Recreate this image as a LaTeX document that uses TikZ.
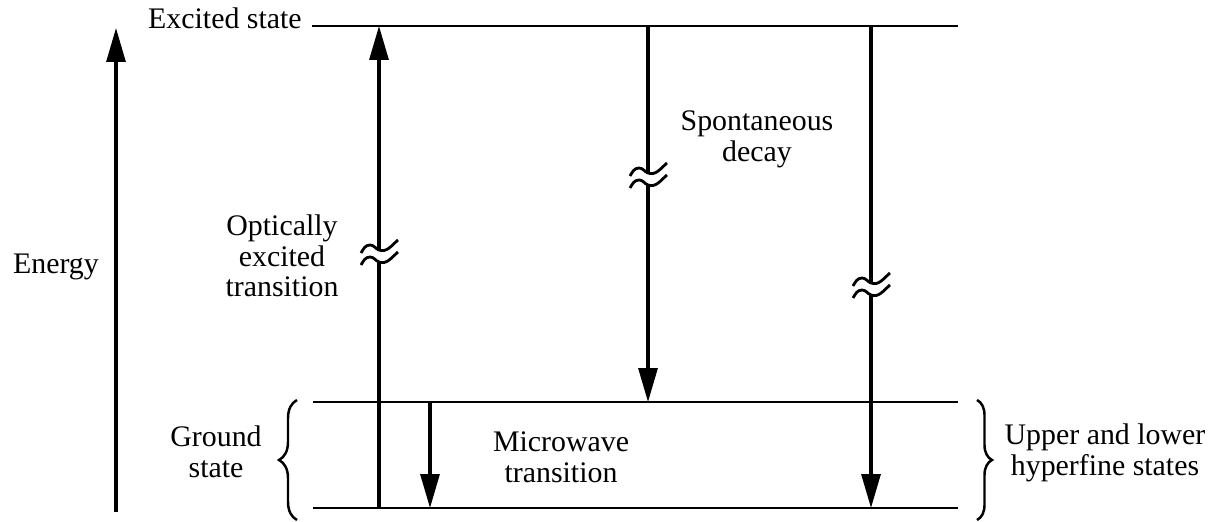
\documentclass[tikz,border=0pt]{standalone}
\usepackage{fontspec}
\setmainfont{Liberation Serif}
\usetikzlibrary{arrows.meta,decorations.pathreplacing}

\begin{document}
\begin{tikzpicture}[x=0.02cm,y=0.02cm,
    level/.style={line width=1.3pt},
    trans/.style={line width=1.8pt,-{Triangle[length=0.68cm,width=0.38cm]}},
    lbl/.style={font=\fontsize{17}{17.5}\selectfont,align=center,inner sep=0pt},
    brc/.style={decorate,decoration={brace,amplitude=#1},line width=1.4pt},
    breakmark/.pic={
      \fill[white] (-3,-6) rectangle (3,4);
      \draw[line width=1.6pt] (-18,2) to[out=60,in=180] (-9,10) to[out=0,in=160] (0,5) to[out=-20,in=220] (19,15);
      \draw[line width=1.6pt] (-18,-10) to[out=60,in=180] (-9,-2) to[out=0,in=160] (0,-7) to[out=-20,in=220] (19,3);
    }]
  \useasboundingbox (0,0) rectangle (1212,521);

  % energy levels
  \draw[level] (312,495) coordinate (exc-l) -- (958,495) coordinate (exc-r);
  \draw[level] (313,119) coordinate (gup-l) -- (958,119) coordinate (gup-r);
  \draw[level] (313,13) coordinate (glo-l) -- (958,13) coordinate (glo-r);

  % arrow end points
  \coordinate (en-lo) at (116,9);
  \coordinate (en-hi) at (116,493);
  \coordinate (opt-lo) at (379,13);
  \coordinate (opt-hi) at (379,495);
  \coordinate (sp1-hi) at (648,495);
  \coordinate (sp1-lo) at (648,119);
  \coordinate (sp2-hi) at (871,495);
  \coordinate (sp2-lo) at (871,13);
  \coordinate (mw-hi) at (430,119);
  \coordinate (mw-lo) at (430,13);

  \draw[trans] (en-lo) -- (en-hi);
  \draw[trans] (opt-lo) -- (opt-hi);
  \draw[trans] (sp1-hi) -- (sp1-lo);
  \draw[trans] (sp2-hi) -- (sp2-lo);
  \draw[trans] (mw-hi) -- (mw-lo);

  % breaks in the long arrows
  \path (379,266) pic {breakmark};
  \path (648,343) pic {breakmark};
  \path (871,233) pic {breakmark};

  % braces
  \draw[brc=0.36cm] (297,1) -- (297,121);
  \draw[brc=0.3cm] (977,121) -- (977,1);

  % labels
  \node[lbl,anchor=east] (excited) at (302,503) {Excited state};
  \node[lbl] (energy) at (56,254) {Energy};
  \node[lbl] (optical) at (282,265) {Optically\\excited\\transition};
  \node[lbl] (spont) at (757,382) {Spontaneous\\decay};
  \node[lbl] (micro) at (561,64) {Microwave\\transition};
  \node[lbl] (ground) at (216,69) {Ground\\state};
  \node[lbl] (hyper) at (1105,68) {Upper and lower\\hyperfine states};
\end{tikzpicture}
\end{document}
